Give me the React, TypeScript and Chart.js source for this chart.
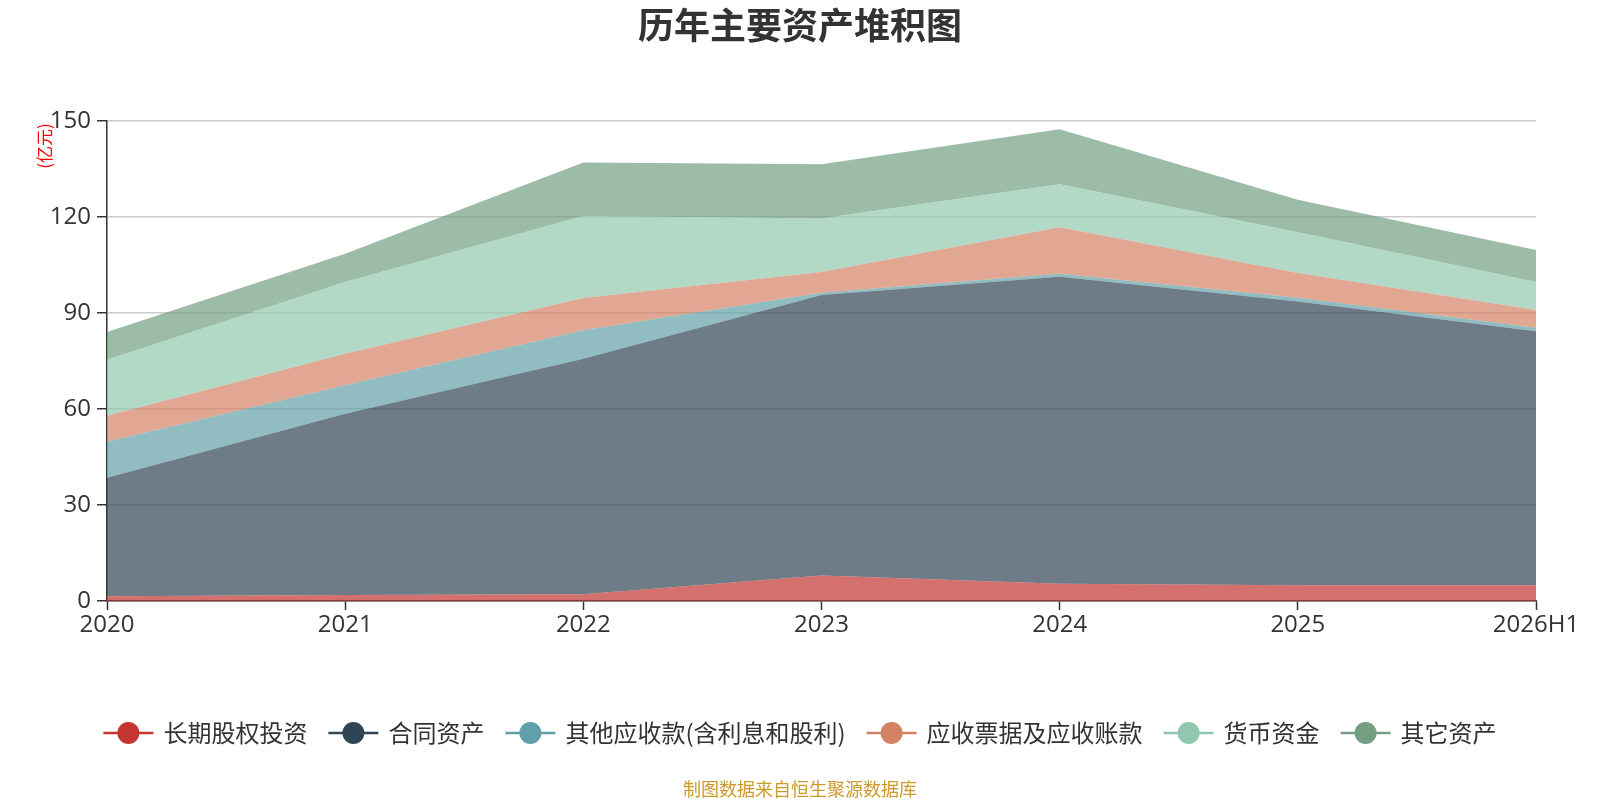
import React, { useEffect, useRef } from "react";
import { Chart, registerables } from "chart.js";

Chart.register(...registerables);

// 年份
const years = ["2020", "2021", "2022", "2023", "2024", "2025", "2026H1"];

// 各项资产（亿元）
const longTermEquity = [1.5, 1.9, 2.1, 8.0, 5.4, 4.9, 4.9];
const contractAssets = [37.0, 56.6, 73.6, 87.6, 95.9, 88.7, 79.4];
const otherReceivables = [11.3, 8.9, 8.9, 0.7, 1.0, 1.2, 1.1];
const notesReceivable = [8.1, 9.9, 10.1, 6.5, 14.5, 7.7, 5.5];
const cash = [17.5, 22.4, 25.6, 16.7, 13.4, 12.7, 8.8];
const otherAssets = [8.7, 8.8, 16.7, 17.0, 17.2, 10.2, 10.0];

const seriesNames = [
  "长期股权投资",
  "合同资产",
  "其他应收款(含利息和股利)",
  "应收票据及应收账款",
  "货币资金",
  "其它资产",
];
const seriesColors = ["#c23531", "#2f4554", "#61a0a8", "#d48265", "#91c7ae", "#749f83"];

const FONT = '"Noto Sans CJK SC", "Noto Sans", sans-serif';
const NUM_FONT = '"Open Sans", "Noto Sans", sans-serif';

const hexToRgba = (hex: string, a: number) => {
  const n = parseInt(hex.slice(1), 16);
  return `rgba(${(n >> 16) & 255}, ${(n >> 8) & 255}, ${n & 255}, ${a})`;
};

// 标题、单位、图例和来源
const decorations = {
  id: "decorations",
  afterDraw(chart: any) {
    const ctx = chart.ctx;
    ctx.save();

    ctx.fillStyle = "#333";
    ctx.font = `bold 36px ${FONT}`;
    ctx.textAlign = "center";
    ctx.textBaseline = "middle";
    ctx.fillText("历年主要资产堆积图", 800, 25);

    ctx.save();
    ctx.translate(45, 146);
    ctx.rotate(-Math.PI / 2);
    ctx.fillStyle = "#ff0000";
    ctx.font = `17px ${FONT}`;
    ctx.fillText("(亿元)", 0, 0);
    ctx.restore();

    // 图例
    ctx.font = `24px ${FONT}`;
    const markW = 50;
    const gapText = 10;
    const gapItem = 21;
    const widths = seriesNames.map((s) => ctx.measureText(s).width);
    const total =
      widths.reduce((a, b) => a + b, 0) + seriesNames.length * (markW + gapText) + gapItem * (seriesNames.length - 1);
    let x = 800 - total / 2;
    const y = 733;
    seriesNames.forEach((name, i) => {
      ctx.strokeStyle = seriesColors[i];
      ctx.lineWidth = 2.5;
      ctx.beginPath();
      ctx.moveTo(x, y);
      ctx.lineTo(x + markW, y);
      ctx.stroke();
      ctx.fillStyle = seriesColors[i];
      ctx.beginPath();
      ctx.arc(x + markW / 2, y, 11, 0, Math.PI * 2);
      ctx.fill();
      ctx.fillStyle = "#333";
      ctx.textAlign = "left";
      ctx.fillText(name, x + markW + gapText, y);
      x += markW + gapText + widths[i] + gapItem;
    });

    ctx.fillStyle = "#cc9a2b";
    ctx.font = `18px ${FONT}`;
    ctx.textAlign = "center";
    ctx.fillText("制图数据来自恒生聚源数据库", 800, 789);

    ctx.restore();
  },
};

const App = () => {
  const canvasRef = useRef<HTMLCanvasElement>(null);

  useEffect(() => {
    document.body.style.margin = "0";
    if (!canvasRef.current) return;

    const values = [longTermEquity, contractAssets, otherReceivables, notesReceivable, cash, otherAssets];

    const chart = new Chart(canvasRef.current, {
      type: "line",
      data: {
        labels: years,
        datasets: values.map((data, i) => ({
          label: seriesNames[i],
          data,
          fill: i === 0 ? "origin" : "-1",
          backgroundColor: hexToRgba(seriesColors[i], 0.7),
          borderColor: "transparent",
          borderWidth: 0,
          pointRadius: 0,
          tension: 0,
        })),
      },
      options: {
        animation: false,
        responsive: true,
        maintainAspectRatio: false,
        layout: { padding: { left: 0, right: 64, top: 121, bottom: 149 } },
        plugins: {
          legend: { display: false },
          title: { display: false },
          tooltip: { enabled: false },
        },
        scales: {
          x: {
            offset: false,
            grid: {
              drawOnChartArea: false,
              drawTicks: true,
              tickLength: 9,
              tickColor: "#333",
              tickWidth: 1.5,
            },
            border: { color: "#333", width: 1.5 },
            ticks: {
              color: "#333",
              font: { family: NUM_FONT, size: 24 },
              padding: 1,
              maxRotation: 0,
              autoSkip: false,
            },
            afterFit: (scale: any) => {
              scale.height = 50;
            },
          },
          y: {
            stacked: true,
            min: 0,
            max: 150,
            ticks: {
              stepSize: 30,
              color: "#333",
              font: { family: NUM_FONT, size: 24 },
              padding: 6,
            },
            grid: {
              color: "#cccccc",
              lineWidth: 1.5,
              tickLength: 10,
              tickColor: "#333",
              tickWidth: 1.5,
            },
            border: { color: "#333", width: 1.5 },
            afterFit: (scale: any) => {
              scale.width = 107;
            },
          },
        },
      },
      plugins: [decorations],
    });

    return () => {
      chart.destroy();
    };
  }, []);

  return (
    <div style={{ width: 1600, height: 800, position: "relative", background: "#fff" }}>
      <canvas ref={canvasRef} />
    </div>
  );
};

export default App;
